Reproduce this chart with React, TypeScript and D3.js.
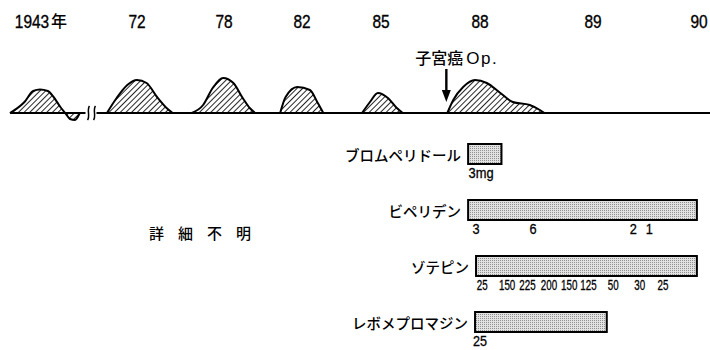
import React from "react";
import * as d3 from "d3";

// ---- data ----
const yearLabels = ["1943年", "72", "78", "82", "85", "88", "89", "90"];

// mood episodes: [time in tick-slot units, severity]
const episode1943: [number, number][] = [
  [-0.31, 0], [-0.16, 11], [-0.07, 22], [0.0, 23.5], [0.08, 22], [0.14, 16], [0.21, 6], [0.26, 0],
  [0.31, -6], [0.36, -7], [0.41, 0],
];
const episode1972: [number, number][] = [
  [0.69, 0], [0.79, 15], [0.9, 28], [1.0, 33], [1.11, 30], [1.23, 16], [1.34, 5], [1.41, 0],
];
const episode1978: [number, number][] = [
  [1.63, 0], [1.76, 8], [1.87, 25], [1.99, 35], [2.12, 30], [2.24, 15], [2.33, 5], [2.4, 0],
];
const episode1982: [number, number][] = [
  [2.72, 0], [2.79, 16], [2.94, 26], [3.1, 23], [3.2, 10], [3.27, 0],
];
const episode1985: [number, number][] = [
  [3.76, 0], [3.86, 11], [3.96, 20], [4.07, 15], [4.16, 5], [4.22, 0],
];
const episode1988: [number, number][] = [
  [4.67, 0], [4.73, 13], [4.83, 26], [4.95, 33], [5.06, 30], [5.18, 20], [5.29, 11], [5.44, 8],
  [5.53, 3], [5.57, 0],
];
const episodes = [episode1943, episode1972, episode1978, episode1982, episode1985, episode1988];

const operationTime = 4.66;
const operationLabel = "子宮癌";
const operationSuffix = "Op.";
const unknownLabel = "詳細不明";

const drugNames = ["ブロムペリドール", "ビペリデン", "ゾテピン", "レボメプロマジン"];
const drugStart = [4.88, 4.88, 4.96, 4.95];
const drugEnd = [5.19, 6.98, 6.98, 6.13];

const bromperidolDoses = [{ t: 5.01, label: "3mg" }];
const biperidenDoses = [
  { t: 4.96, label: "3" }, { t: 5.47, label: "6" }, { t: 6.38, label: "2" }, { t: 6.53, label: "1" },
];
const zotepineDoses = [
  { t: 5.02, label: "25" }, { t: 5.24, label: "150" }, { t: 5.42, label: "225" },
  { t: 5.61, label: "200" }, { t: 5.79, label: "150" }, { t: 5.96, label: "125" },
  { t: 6.19, label: "50" }, { t: 6.44, label: "30" }, { t: 6.66, label: "25" },
];
const levomepromazineDoses = [{ t: 5.0, label: "25" }];
const drugDoses = [bromperidolDoses, biperidenDoses, zotepineDoses, levomepromazineDoses];

// ---- layout ----
const W = 710;
const H = 350;
const TICK_X = [40, 137, 224, 302, 381, 480, 593, 699];
const BASE_Y = 113;
const DOSE_SIZE = [14, 15, 14, 14];
const DOSE_SX = [0.92, 0.85, 0.7, 0.9];

const latin = "'Liberation Sans', Arial, Helvetica, sans-serif";
const cjk = "'Noto Sans CJK JP', 'Noto Sans CJK SC', sans-serif";

function CondText(props: {
  x: number;
  y: number;
  size: number;
  sx: number;
  anchor?: string;
  weight?: number;
  children: React.ReactNode;
}) {
  return (
    <text
      transform={`translate(${props.x},${props.y}) scale(${props.sx},1)`}
      textAnchor={props.anchor || "middle"}
      fontFamily={latin}
      fontSize={props.size}
      fill="#000"
      stroke="#000"
      strokeWidth={props.weight ?? 0.35}
    >
      {props.children}
    </text>
  );
}

export default function App() {
  const x = d3.scaleLinear().domain(d3.range(yearLabels.length)).range(TICK_X);
  const y = d3.scaleLinear().domain([0, 35]).range([BASE_Y, BASE_Y - 35]);
  const rowY = d3.scalePoint<string>().domain(drugNames).range([154, 322]);
  const barH = 20;

  const area = d3
    .area<[number, number]>()
    .x((d) => x(d[0]))
    .y0(y(0))
    .y1((d) => y(d[1]))
    .curve(d3.curveMonotoneX);
  const line = d3
    .line<[number, number]>()
    .x((d) => x(d[0]))
    .y((d) => y(d[1]))
    .curve(d3.curveMonotoneX);

  const brk = x(0.5);
  const opX = x(operationTime);

  return (
    <svg
      width={W}
      height={H}
      viewBox={`0 0 ${W} ${H}`}
      style={{ position: "absolute", left: 0, top: 0, background: "#fff" }}
    >
      <defs>
        <pattern id="hatch" patternUnits="userSpaceOnUse" width={4} height={10} patternTransform="rotate(45)">
          <line x1={0} y1={0} x2={0} y2={10} stroke="#000" strokeWidth={1.7} />
        </pattern>
        <pattern id="stipple" patternUnits="userSpaceOnUse" width={2} height={2}>
          <rect width={2} height={2} fill="#e2e2e2" />
          <rect width={1} height={1} fill="#909090" />
        </pattern>
      </defs>
      <rect width={W} height={H} fill="#fff" />

      {/* year labels */}
      {yearLabels.map((lab, i) =>
        lab.includes("年") ? (
          <g key={lab}>
            <CondText x={x(i) - 8} y={28} size={18} sx={0.86}>
              {lab.replace("年", "")}
            </CondText>
            <text x={x(i) + 19} y={27} textAnchor="middle" fontFamily={cjk} fontSize={16} fontWeight={500} fill="#000">
              年
            </text>
          </g>
        ) : (
          <CondText key={lab} x={x(i)} y={28} size={18} sx={0.86}>
            {lab}
          </CondText>
        )
      )}

      {/* episodes */}
      {episodes.map((ep, i) => (
        <g key={i}>
          <path d={area(ep) || ""} fill="url(#hatch)" />
          <path d={line(ep) || ""} fill="none" stroke="#000" strokeWidth={2} strokeLinejoin="round" />
        </g>
      ))}

      {/* baseline with break */}
      <line x1={10} x2={brk - 3} y1={BASE_Y} y2={BASE_Y} stroke="#000" strokeWidth={2} />
      <line x1={brk + 8} x2={W} y1={BASE_Y} y2={BASE_Y} stroke="#000" strokeWidth={2} />
      {[0, 6].map((dx) => (
        <path
          key={dx}
          d={`M${brk - 1 + dx},${BASE_Y + 7} C${brk + 2 + dx},${BASE_Y + 3} ${brk - 2 + dx},${BASE_Y - 3} ${brk + 1 + dx},${BASE_Y - 7}`}
          fill="none"
          stroke="#000"
          strokeWidth={1.5}
        />
      ))}

      {/* operation annotation */}
      <text x={opX - 31} y={64} textAnchor="start" fontFamily={cjk} fontSize={16} fontWeight={500} fill="#000">
        {operationLabel}
        <tspan fontFamily={latin} fontSize={17} letterSpacing={1.5} dx={3}>
          {operationSuffix}
        </tspan>
      </text>
      <line x1={opX} x2={opX} y1={69} y2={92} stroke="#000" strokeWidth={2.4} />
      <path d={`M${opX - 4.5},${90} L${opX + 4.5},${90} L${opX},${102} Z`} fill="#000" />

      {/* unknown label */}
      <text
        x={200 + 7}
        y={232}
        textAnchor="middle"
        dominantBaseline="central"
        fontFamily={cjk}
        fontSize={15}
        fontWeight={500}
        letterSpacing={14}
        fill="#000"
      >
        {unknownLabel}
      </text>

      {/* drug bars */}
      {drugNames.map((name, i) => {
        const cy = rowY(name) as number;
        const x0 = x(drugStart[i]);
        const x1 = x(drugEnd[i]);
        return (
          <g key={name}>
            <text
              x={x0 - 7}
              y={cy}
              textAnchor="end"
              dominantBaseline="central"
              fontFamily={cjk}
              fontSize={14.5}
              fontWeight={500}
              fill="#000"
            >
              {name}
            </text>
            <rect x={x0} y={cy - barH / 2} width={x1 - x0} height={barH} fill="url(#stipple)" stroke="#000" strokeWidth={2} />
            {drugDoses[i].map((d, j) => (
              <CondText
                key={j}
                x={x(d.t)}
                y={cy + 24}
                size={DOSE_SIZE[i]}
                sx={DOSE_SX[i]}
                weight={0.3}
              >
                {d.label}
              </CondText>
            ))}
          </g>
        );
      })}
    </svg>
  );
}
